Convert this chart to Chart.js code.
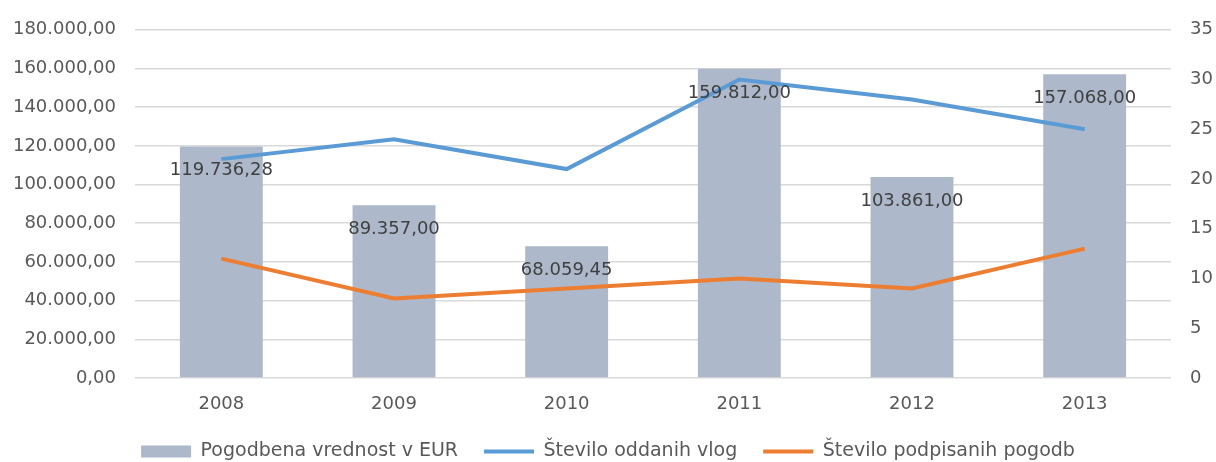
<!DOCTYPE html>
<html>
<head>
<meta charset="utf-8">
<script src="https://cdn.jsdelivr.net/npm/chart.js@4"></script>
<style>
  html, body { margin: 0; padding: 0; background: #fff; }
  #wrap { width: 1216px; height: 462px; }
</style>
</head>
<body>
<div id="wrap"><canvas id="graf"></canvas></div>
<script>
const leta = ['2008', '2009', '2010', '2011', '2012', '2013'];
const pogodbenaVrednost = [119736.28, 89357.00, 68059.45, 159812.00, 103861.00, 157068.00];
const oddaneVloge = [22, 24, 21, 30, 28, 25];
const podpisanePogodbe = [12, 8, 9, 10, 9, 13];

const imeVrednost = 'Pogodbena vrednost v EUR';
const imeVloge = 'Število oddanih vlog';
const imePogodbe = 'Število podpisanih pogodb';

const pisava = "'DejaVu Sans', 'Liberation Sans', sans-serif";

function formatirajEur(v) {
    let [cela, dec] = Number(v).toFixed(2).split('.');
    cela = cela.replace(/\B(?=(\d{3})+(?!\d))/g, '.');
    return cela + ',' + dec;
}

// napisi vrednosti na stolpcih
const napisiStolpcev = {
    id: 'napisiStolpcev',
    afterDatasetsDraw(chart) {
        const ctx = chart.ctx;
        const meta = chart.getDatasetMeta(0);
        ctx.save();
        ctx.font = '18px ' + pisava;
        ctx.fillStyle = '#404040';
        ctx.textAlign = 'center';
        ctx.textBaseline = 'middle';
        meta.data.forEach((bar, i) => {
            ctx.fillText(formatirajEur(pogodbenaVrednost[i]), bar.x, bar.y + 24);
        });
        ctx.restore();
    }
};

// legenda naj bo nizka, da ostane prostor za graf
const visinaLegende = {
    id: 'visinaLegende',
    beforeInit(chart) {
        const legenda = chart.legend;
        if (!legenda) return;
        const fit = legenda.fit;
        legenda.fit = function () {
            fit.call(this);
            this.height = 46;
        };
    }
};

new Chart(document.getElementById('graf'), {
    data: {
        labels: leta,
        datasets: [
            {
                type: 'bar',
                label: imeVrednost,
                data: pogodbenaVrednost,
                backgroundColor: '#adb9ca',
                yAxisID: 'y',
                order: 3,
                pointStyle: 'rect',
                categoryPercentage: 1,
                barPercentage: 0.48
            },
            {
                type: 'line',
                label: imeVloge,
                data: oddaneVloge,
                borderColor: '#5b9bd5',
                backgroundColor: '#5b9bd5',
                borderWidth: 4,
                pointRadius: 0,
                tension: 0,
                yAxisID: 'y2',
                order: 1,
                pointStyle: 'line'
            },
            {
                type: 'line',
                label: imePogodbe,
                data: podpisanePogodbe,
                borderColor: '#ed7d31',
                backgroundColor: '#ed7d31',
                borderWidth: 4,
                pointRadius: 0,
                tension: 0,
                yAxisID: 'y2',
                order: 2,
                pointStyle: 'line'
            }
        ]
    },
    options: {
        responsive: true,
        maintainAspectRatio: false,
        animation: false,
        layout: { padding: { top: 16, left: 0, right: 0, bottom: 0 } },
        plugins: {
            tooltip: { enabled: false },
            legend: {
                position: 'bottom',
                labels: {
                    usePointStyle: true,
                    pointStyleWidth: 50,
                    boxHeight: 12,
                    padding: 26,
                    color: '#595959',
                    font: { family: pisava, size: 19 },
                    sort: (a, b) => a.datasetIndex - b.datasetIndex
                }
            }
        },
        scales: {
            x: {
                afterFit: s => { s.height = 38; },
                grid: { display: false, drawTicks: false },
                border: { display: false },
                ticks: { color: '#595959', font: { family: pisava, size: 18 }, padding: 16 }
            },
            y: {
                position: 'left',
                min: 0,
                max: 180000,
                afterFit: s => { s.width = 135; },
                ticks: {
                    stepSize: 20000,
                    color: '#595959',
                    font: { family: pisava, size: 18 },
                    padding: 19,
                    callback: v => formatirajEur(v)
                },
                grid: { color: '#d9d9d9', lineWidth: 1.5, drawTicks: false },
                border: { display: false }
            },
            y2: {
                position: 'right',
                min: 0,
                max: 35,
                afterFit: s => { s.width = 45; },
                ticks: {
                    stepSize: 5,
                    color: '#595959',
                    font: { family: pisava, size: 18 },
                    padding: 19
                },
                grid: { display: false, drawTicks: false },
                border: { display: false }
            }
        }
    },
    plugins: [napisiStolpcev, visinaLegende]
});
</script>
</body>
</html>
